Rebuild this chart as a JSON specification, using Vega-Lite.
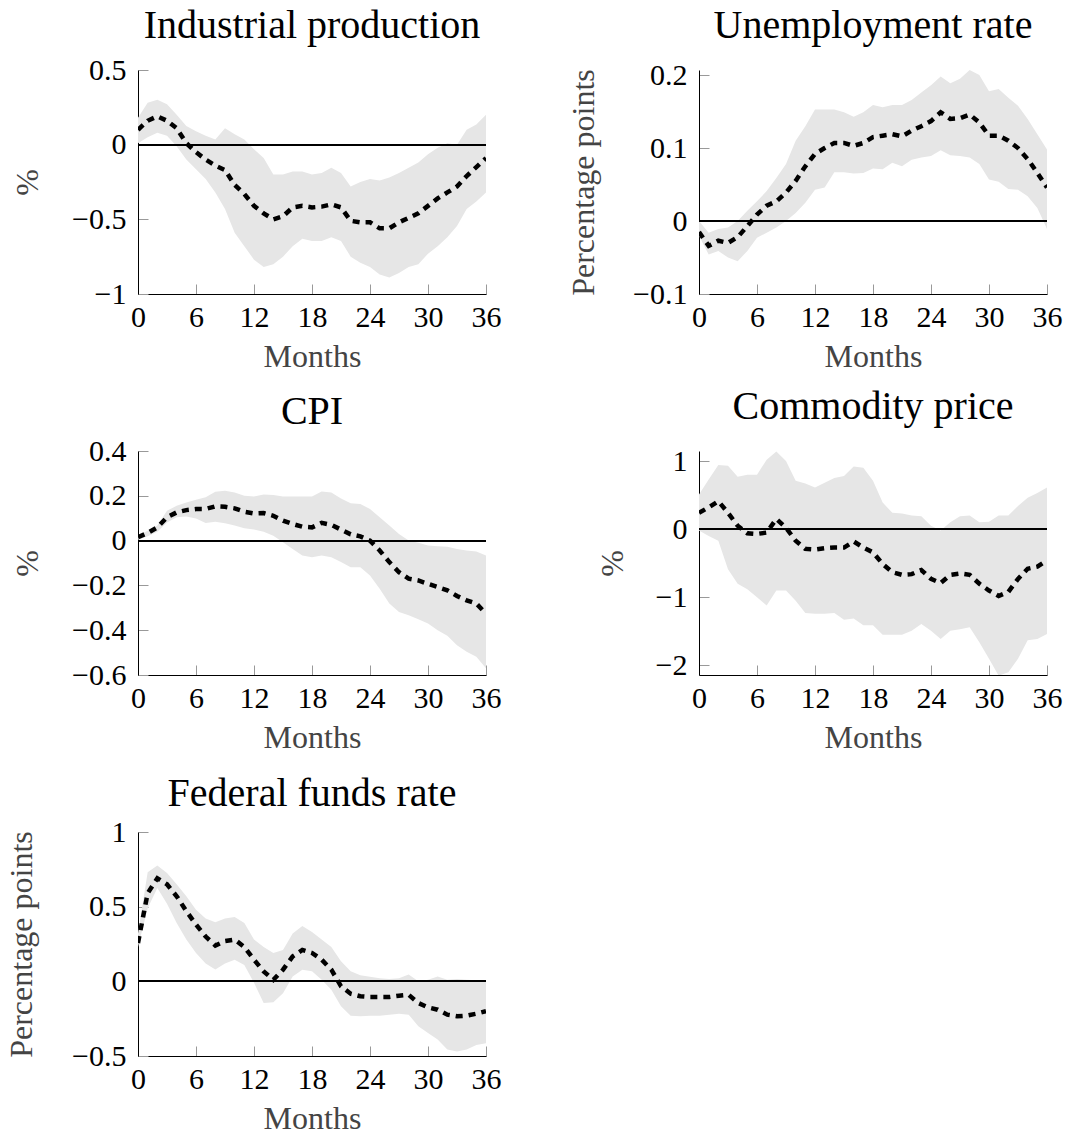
{
  "$schema": "https://vega.github.io/schema/vega-lite/v6.json",
  "padding": {"left": 5, "top": 6, "right": 2, "bottom": 2},
  "background": "white",
  "bounds": "flush",
  "columns": 2,
  "spacing": {"row": 157, "column": 213},
  "data": {"values": [
    {"p":"IP","m":0,"lo":0.01,"hi":0.18,"mean":0.10},
    {"p":"IP","m":1,"lo":0.05,"hi":0.28,"mean":0.16},
    {"p":"IP","m":2,"lo":0.08,"hi":0.30,"mean":0.19},
    {"p":"IP","m":3,"lo":0.06,"hi":0.27,"mean":0.16},
    {"p":"IP","m":4,"lo":-0.01,"hi":0.20,"mean":0.11},
    {"p":"IP","m":5,"lo":-0.10,"hi":0.125,"mean":0.01},
    {"p":"IP","m":6,"lo":-0.165,"hi":0.09,"mean":-0.05},
    {"p":"IP","m":7,"lo":-0.23,"hi":0.06,"mean":-0.10},
    {"p":"IP","m":8,"lo":-0.32,"hi":0.035,"mean":-0.14},
    {"p":"IP","m":9,"lo":-0.43,"hi":0.11,"mean":-0.17},
    {"p":"IP","m":10,"lo":-0.59,"hi":0.07,"mean":-0.27},
    {"p":"IP","m":11,"lo":-0.68,"hi":0.035,"mean":-0.33},
    {"p":"IP","m":12,"lo":-0.77,"hi":-0.03,"mean":-0.41},
    {"p":"IP","m":13,"lo":-0.82,"hi":-0.09,"mean":-0.46},
    {"p":"IP","m":14,"lo":-0.80,"hi":-0.20,"mean":-0.50},
    {"p":"IP","m":15,"lo":-0.75,"hi":-0.20,"mean":-0.48},
    {"p":"IP","m":16,"lo":-0.68,"hi":-0.18,"mean":-0.42},
    {"p":"IP","m":17,"lo":-0.63,"hi":-0.18,"mean":-0.41},
    {"p":"IP","m":18,"lo":-0.645,"hi":-0.20,"mean":-0.42},
    {"p":"IP","m":19,"lo":-0.645,"hi":-0.19,"mean":-0.415},
    {"p":"IP","m":20,"lo":-0.62,"hi":-0.155,"mean":-0.40},
    {"p":"IP","m":21,"lo":-0.645,"hi":-0.19,"mean":-0.42},
    {"p":"IP","m":22,"lo":-0.75,"hi":-0.28,"mean":-0.51},
    {"p":"IP","m":23,"lo":-0.79,"hi":-0.25,"mean":-0.52},
    {"p":"IP","m":24,"lo":-0.82,"hi":-0.23,"mean":-0.52},
    {"p":"IP","m":25,"lo":-0.87,"hi":-0.24,"mean":-0.56},
    {"p":"IP","m":26,"lo":-0.89,"hi":-0.22,"mean":-0.56},
    {"p":"IP","m":27,"lo":-0.86,"hi":-0.19,"mean":-0.52},
    {"p":"IP","m":28,"lo":-0.82,"hi":-0.155,"mean":-0.49},
    {"p":"IP","m":29,"lo":-0.80,"hi":-0.12,"mean":-0.46},
    {"p":"IP","m":30,"lo":-0.73,"hi":-0.065,"mean":-0.41},
    {"p":"IP","m":31,"lo":-0.68,"hi":-0.02,"mean":-0.36},
    {"p":"IP","m":32,"lo":-0.62,"hi":0.01,"mean":-0.32},
    {"p":"IP","m":33,"lo":-0.545,"hi":0.00,"mean":-0.28},
    {"p":"IP","m":34,"lo":-0.43,"hi":0.10,"mean":-0.21},
    {"p":"IP","m":35,"lo":-0.38,"hi":0.135,"mean":-0.15},
    {"p":"IP","m":36,"lo":-0.32,"hi":0.20,"mean":-0.09},

    {"p":"UR","m":0,"lo":-0.02,"hi":0.0,"mean":-0.015},
    {"p":"UR","m":1,"lo":-0.046,"hi":-0.016,"mean":-0.034},
    {"p":"UR","m":2,"lo":-0.041,"hi":-0.011,"mean":-0.027},
    {"p":"UR","m":3,"lo":-0.050,"hi":-0.009,"mean":-0.030},
    {"p":"UR","m":4,"lo":-0.055,"hi":0.000,"mean":-0.022},
    {"p":"UR","m":5,"lo":-0.041,"hi":0.014,"mean":-0.007},
    {"p":"UR","m":6,"lo":-0.023,"hi":0.027,"mean":0.009},
    {"p":"UR","m":7,"lo":-0.016,"hi":0.041,"mean":0.021},
    {"p":"UR","m":8,"lo":-0.009,"hi":0.059,"mean":0.027},
    {"p":"UR","m":9,"lo":0.000,"hi":0.078,"mean":0.039},
    {"p":"UR","m":10,"lo":0.011,"hi":0.110,"mean":0.055},
    {"p":"UR","m":11,"lo":0.025,"hi":0.130,"mean":0.075},
    {"p":"UR","m":12,"lo":0.043,"hi":0.153,"mean":0.092},
    {"p":"UR","m":13,"lo":0.046,"hi":0.153,"mean":0.100},
    {"p":"UR","m":14,"lo":0.067,"hi":0.153,"mean":0.107},
    {"p":"UR","m":15,"lo":0.067,"hi":0.149,"mean":0.107},
    {"p":"UR","m":16,"lo":0.065,"hi":0.143,"mean":0.103},
    {"p":"UR","m":17,"lo":0.066,"hi":0.149,"mean":0.107},
    {"p":"UR","m":18,"lo":0.072,"hi":0.159,"mean":0.115},
    {"p":"UR","m":19,"lo":0.071,"hi":0.156,"mean":0.117},
    {"p":"UR","m":20,"lo":0.080,"hi":0.159,"mean":0.119},
    {"p":"UR","m":21,"lo":0.075,"hi":0.159,"mean":0.116},
    {"p":"UR","m":22,"lo":0.084,"hi":0.166,"mean":0.124},
    {"p":"UR","m":23,"lo":0.087,"hi":0.176,"mean":0.130},
    {"p":"UR","m":24,"lo":0.089,"hi":0.186,"mean":0.137},
    {"p":"UR","m":25,"lo":0.097,"hi":0.198,"mean":0.149},
    {"p":"UR","m":26,"lo":0.090,"hi":0.189,"mean":0.140},
    {"p":"UR","m":27,"lo":0.089,"hi":0.195,"mean":0.141},
    {"p":"UR","m":28,"lo":0.087,"hi":0.207,"mean":0.146},
    {"p":"UR","m":29,"lo":0.078,"hi":0.200,"mean":0.135},
    {"p":"UR","m":30,"lo":0.057,"hi":0.178,"mean":0.117},
    {"p":"UR","m":31,"lo":0.054,"hi":0.181,"mean":0.117},
    {"p":"UR","m":32,"lo":0.044,"hi":0.169,"mean":0.110},
    {"p":"UR","m":33,"lo":0.043,"hi":0.158,"mean":0.100},
    {"p":"UR","m":34,"lo":0.034,"hi":0.140,"mean":0.085},
    {"p":"UR","m":35,"lo":0.018,"hi":0.119,"mean":0.066},
    {"p":"UR","m":36,"lo":-0.011,"hi":0.098,"mean":0.046},

    {"p":"CPI","m":0,"lo":0.004,"hi":0.022,"mean":0.015},
    {"p":"CPI","m":1,"lo":0.019,"hi":0.044,"mean":0.034},
    {"p":"CPI","m":2,"lo":0.040,"hi":0.067,"mean":0.059},
    {"p":"CPI","m":3,"lo":0.081,"hi":0.133,"mean":0.104},
    {"p":"CPI","m":4,"lo":0.104,"hi":0.156,"mean":0.126},
    {"p":"CPI","m":5,"lo":0.108,"hi":0.170,"mean":0.136},
    {"p":"CPI","m":6,"lo":0.099,"hi":0.182,"mean":0.141},
    {"p":"CPI","m":7,"lo":0.079,"hi":0.193,"mean":0.141},
    {"p":"CPI","m":8,"lo":0.084,"hi":0.218,"mean":0.153},
    {"p":"CPI","m":9,"lo":0.077,"hi":0.222,"mean":0.151},
    {"p":"CPI","m":10,"lo":0.067,"hi":0.215,"mean":0.144},
    {"p":"CPI","m":11,"lo":0.055,"hi":0.200,"mean":0.129},
    {"p":"CPI","m":12,"lo":0.049,"hi":0.197,"mean":0.121},
    {"p":"CPI","m":13,"lo":0.040,"hi":0.206,"mean":0.123},
    {"p":"CPI","m":14,"lo":0.022,"hi":0.204,"mean":0.111},
    {"p":"CPI","m":15,"lo":-0.007,"hi":0.197,"mean":0.089},
    {"p":"CPI","m":16,"lo":-0.037,"hi":0.197,"mean":0.074},
    {"p":"CPI","m":17,"lo":-0.067,"hi":0.197,"mean":0.062},
    {"p":"CPI","m":18,"lo":-0.074,"hi":0.197,"mean":0.059},
    {"p":"CPI","m":19,"lo":-0.067,"hi":0.219,"mean":0.079},
    {"p":"CPI","m":20,"lo":-0.074,"hi":0.215,"mean":0.070},
    {"p":"CPI","m":21,"lo":-0.096,"hi":0.188,"mean":0.049},
    {"p":"CPI","m":22,"lo":-0.119,"hi":0.167,"mean":0.028},
    {"p":"CPI","m":23,"lo":-0.119,"hi":0.163,"mean":0.019},
    {"p":"CPI","m":24,"lo":-0.156,"hi":0.141,"mean":0.000},
    {"p":"CPI","m":25,"lo":-0.215,"hi":0.104,"mean":-0.044},
    {"p":"CPI","m":26,"lo":-0.281,"hi":0.067,"mean":-0.096},
    {"p":"CPI","m":27,"lo":-0.319,"hi":0.030,"mean":-0.141},
    {"p":"CPI","m":28,"lo":-0.333,"hi":0.000,"mean":-0.170},
    {"p":"CPI","m":29,"lo":-0.351,"hi":-0.010,"mean":-0.178},
    {"p":"CPI","m":30,"lo":-0.370,"hi":-0.022,"mean":-0.193},
    {"p":"CPI","m":31,"lo":-0.400,"hi":-0.025,"mean":-0.207},
    {"p":"CPI","m":32,"lo":-0.425,"hi":-0.027,"mean":-0.222},
    {"p":"CPI","m":33,"lo":-0.467,"hi":-0.037,"mean":-0.247},
    {"p":"CPI","m":34,"lo":-0.496,"hi":-0.044,"mean":-0.267},
    {"p":"CPI","m":35,"lo":-0.519,"hi":-0.049,"mean":-0.281},
    {"p":"CPI","m":36,"lo":-0.570,"hi":-0.067,"mean":-0.326},

    {"p":"CP","m":0,"lo":-0.02,"hi":0.51,"mean":0.24},
    {"p":"CP","m":1,"lo":-0.10,"hi":0.73,"mean":0.32},
    {"p":"CP","m":2,"lo":-0.17,"hi":0.94,"mean":0.41},
    {"p":"CP","m":3,"lo":-0.59,"hi":0.93,"mean":0.24},
    {"p":"CP","m":4,"lo":-0.80,"hi":0.77,"mean":0.05},
    {"p":"CP","m":5,"lo":-0.88,"hi":0.80,"mean":-0.06},
    {"p":"CP","m":6,"lo":-1.00,"hi":0.80,"mean":-0.07},
    {"p":"CP","m":7,"lo":-1.12,"hi":1.02,"mean":-0.05},
    {"p":"CP","m":8,"lo":-0.90,"hi":1.14,"mean":0.15},
    {"p":"CP","m":9,"lo":-0.90,"hi":1.00,"mean":0.02},
    {"p":"CP","m":10,"lo":-1.05,"hi":0.71,"mean":-0.17},
    {"p":"CP","m":11,"lo":-1.23,"hi":0.67,"mean":-0.29},
    {"p":"CP","m":12,"lo":-1.24,"hi":0.61,"mean":-0.30},
    {"p":"CP","m":13,"lo":-1.24,"hi":0.68,"mean":-0.28},
    {"p":"CP","m":14,"lo":-1.23,"hi":0.75,"mean":-0.27},
    {"p":"CP","m":15,"lo":-1.33,"hi":0.78,"mean":-0.27},
    {"p":"CP","m":16,"lo":-1.31,"hi":0.92,"mean":-0.18},
    {"p":"CP","m":17,"lo":-1.41,"hi":0.90,"mean":-0.27},
    {"p":"CP","m":18,"lo":-1.41,"hi":0.71,"mean":-0.34},
    {"p":"CP","m":19,"lo":-1.55,"hi":0.39,"mean":-0.51},
    {"p":"CP","m":20,"lo":-1.55,"hi":0.24,"mean":-0.63},
    {"p":"CP","m":21,"lo":-1.55,"hi":0.23,"mean":-0.67},
    {"p":"CP","m":22,"lo":-1.49,"hi":0.20,"mean":-0.66},
    {"p":"CP","m":23,"lo":-1.39,"hi":0.19,"mean":-0.60},
    {"p":"CP","m":24,"lo":-1.49,"hi":0.05,"mean":-0.73},
    {"p":"CP","m":25,"lo":-1.61,"hi":-0.02,"mean":-0.79},
    {"p":"CP","m":26,"lo":-1.49,"hi":0.10,"mean":-0.67},
    {"p":"CP","m":27,"lo":-1.47,"hi":0.19,"mean":-0.65},
    {"p":"CP","m":28,"lo":-1.44,"hi":0.20,"mean":-0.67},
    {"p":"CP","m":29,"lo":-1.66,"hi":0.10,"mean":-0.80},
    {"p":"CP","m":30,"lo":-1.90,"hi":0.11,"mean":-0.90},
    {"p":"CP","m":31,"lo":-2.15,"hi":0.20,"mean":-0.98},
    {"p":"CP","m":32,"lo":-2.10,"hi":0.20,"mean":-0.92},
    {"p":"CP","m":33,"lo":-1.90,"hi":0.34,"mean":-0.73},
    {"p":"CP","m":34,"lo":-1.63,"hi":0.46,"mean":-0.58},
    {"p":"CP","m":35,"lo":-1.61,"hi":0.53,"mean":-0.55},
    {"p":"CP","m":36,"lo":-1.54,"hi":0.61,"mean":-0.46},

    {"p":"FF","m":0,"lo":0.23,"hi":0.32,"mean":0.257},
    {"p":"FF","m":1,"lo":0.49,"hi":0.73,"mean":0.59},
    {"p":"FF","m":2,"lo":0.625,"hi":0.775,"mean":0.69},
    {"p":"FF","m":3,"lo":0.52,"hi":0.725,"mean":0.65},
    {"p":"FF","m":4,"lo":0.39,"hi":0.65,"mean":0.57},
    {"p":"FF","m":5,"lo":0.28,"hi":0.57,"mean":0.47},
    {"p":"FF","m":6,"lo":0.19,"hi":0.48,"mean":0.38},
    {"p":"FF","m":7,"lo":0.12,"hi":0.42,"mean":0.30},
    {"p":"FF","m":8,"lo":0.08,"hi":0.395,"mean":0.24},
    {"p":"FF","m":9,"lo":0.12,"hi":0.42,"mean":0.27},
    {"p":"FF","m":10,"lo":0.145,"hi":0.43,"mean":0.28},
    {"p":"FF","m":11,"lo":0.11,"hi":0.39,"mean":0.23},
    {"p":"FF","m":12,"lo":-0.01,"hi":0.28,"mean":0.145},
    {"p":"FF","m":13,"lo":-0.145,"hi":0.23,"mean":0.067},
    {"p":"FF","m":14,"lo":-0.14,"hi":0.19,"mean":0.01},
    {"p":"FF","m":15,"lo":-0.08,"hi":0.21,"mean":0.078},
    {"p":"FF","m":16,"lo":0.033,"hi":0.32,"mean":0.167},
    {"p":"FF","m":17,"lo":0.078,"hi":0.37,"mean":0.21},
    {"p":"FF","m":18,"lo":0.067,"hi":0.33,"mean":0.19},
    {"p":"FF","m":19,"lo":0.01,"hi":0.28,"mean":0.145},
    {"p":"FF","m":20,"lo":-0.056,"hi":0.23,"mean":0.078},
    {"p":"FF","m":21,"lo":-0.167,"hi":0.134,"mean":-0.033},
    {"p":"FF","m":22,"lo":-0.23,"hi":0.067,"mean":-0.083},
    {"p":"FF","m":23,"lo":-0.234,"hi":0.04,"mean":-0.10},
    {"p":"FF","m":24,"lo":-0.23,"hi":0.03,"mean":-0.105},
    {"p":"FF","m":25,"lo":-0.23,"hi":0.02,"mean":-0.105},
    {"p":"FF","m":26,"lo":-0.223,"hi":0.015,"mean":-0.105},
    {"p":"FF","m":27,"lo":-0.217,"hi":0.02,"mean":-0.096},
    {"p":"FF","m":28,"lo":-0.223,"hi":0.045,"mean":-0.09},
    {"p":"FF","m":29,"lo":-0.30,"hi":0.0,"mean":-0.145},
    {"p":"FF","m":30,"lo":-0.346,"hi":0.01,"mean":-0.174},
    {"p":"FF","m":31,"lo":-0.39,"hi":0.033,"mean":-0.19},
    {"p":"FF","m":32,"lo":-0.457,"hi":0.01,"mean":-0.223},
    {"p":"FF","m":33,"lo":-0.47,"hi":0.015,"mean":-0.234},
    {"p":"FF","m":34,"lo":-0.457,"hi":0.01,"mean":-0.23},
    {"p":"FF","m":35,"lo":-0.426,"hi":0.007,"mean":-0.217},
    {"p":"FF","m":36,"lo":-0.415,"hi":0.0,"mean":-0.20}
  ]},
  "concat": [
    {
      "width": 348, "height": 224,
      "title": {"text": "Industrial production", "offset": 9},
      "transform": [{"filter": "datum.p === 'IP'"}],
      "layer": [
        {"mark": {"type": "area", "color": "#e6e6e6", "clip": true},
         "encoding": {
           "x": {"field": "m", "type": "quantitative", "scale": {"domain": [0, 36], "nice": false}, "axis": {"values": [0,6,12,18,24,30,36], "title": "Months"}},
           "y": {"field": "lo", "type": "quantitative", "scale": {"domain": [-1, 0.5], "nice": false, "zero": false}, "axis": {"values": [-1,-0.5,0,0.5], "title": "%", "titlePadding": 27}},
           "y2": {"field": "hi"}}},
        {"mark": {"type": "rule", "color": "black", "strokeWidth": 1}, "encoding": {"y": {"datum": 0, "type": "quantitative"}}},
        {"mark": {"type": "line", "color": "black", "strokeWidth": 4.5, "strokeDash": [7, 6], "clip": true},
         "encoding": {
           "x": {"field": "m", "type": "quantitative"},
           "y": {"field": "mean", "type": "quantitative"}}}
      ]
    },
    {
      "width": 348, "height": 224,
      "title": {"text": "Unemployment rate", "offset": 14},
      "transform": [{"filter": "datum.p === 'UR'"}],
      "layer": [
        {"mark": {"type": "area", "color": "#e6e6e6", "clip": true},
         "encoding": {
           "x": {"field": "m", "type": "quantitative", "scale": {"domain": [0, 36], "nice": false}, "axis": {"values": [0,6,12,18,24,30,36], "title": "Months"}},
           "y": {"field": "lo", "type": "quantitative", "scale": {"domain": [-0.1, 0.207], "nice": false, "zero": false}, "axis": {"values": [-0.1,0,0.1,0.2], "title": "Percentage points", "titlePadding": 32}},
           "y2": {"field": "hi"}}},
        {"mark": {"type": "rule", "color": "black", "strokeWidth": 1}, "encoding": {"y": {"datum": 0, "type": "quantitative"}}},
        {"mark": {"type": "line", "color": "black", "strokeWidth": 4.5, "strokeDash": [7, 6], "clip": true},
         "encoding": {
           "x": {"field": "m", "type": "quantitative"},
           "y": {"field": "mean", "type": "quantitative"}}}
      ]
    },
    {
      "width": 348, "height": 224,
      "title": {"text": "CPI", "offset": 4},
      "transform": [{"filter": "datum.p === 'CPI'"}],
      "layer": [
        {"mark": {"type": "area", "color": "#e6e6e6", "clip": true},
         "encoding": {
           "x": {"field": "m", "type": "quantitative", "scale": {"domain": [0, 36], "nice": false}, "axis": {"values": [0,6,12,18,24,30,36], "title": "Months"}},
           "y": {"field": "lo", "type": "quantitative", "scale": {"domain": [-0.6, 0.4], "nice": false, "zero": false}, "axis": {"values": [-0.6,-0.4,-0.2,0,0.2,0.4], "title": "%", "titlePadding": 27}},
           "y2": {"field": "hi"}}},
        {"mark": {"type": "rule", "color": "black", "strokeWidth": 1}, "encoding": {"y": {"datum": 0, "type": "quantitative"}}},
        {"mark": {"type": "line", "color": "black", "strokeWidth": 4.5, "strokeDash": [7, 6], "clip": true},
         "encoding": {
           "x": {"field": "m", "type": "quantitative"},
           "y": {"field": "mean", "type": "quantitative"}}}
      ]
    },
    {
      "width": 348, "height": 224,
      "title": {"text": "Commodity price", "offset": 19},
      "transform": [{"filter": "datum.p === 'CP'"}],
      "layer": [
        {"mark": {"type": "area", "color": "#e6e6e6", "clip": true},
         "encoding": {
           "x": {"field": "m", "type": "quantitative", "scale": {"domain": [0, 36], "nice": false}, "axis": {"values": [0,6,12,18,24,30,36], "title": "Months"}},
           "y": {"field": "lo", "type": "quantitative", "scale": {"domain": [-2.14, 1.147], "nice": false, "zero": false}, "axis": {"values": [-2,-1,0,1], "title": "%", "titlePadding": 26}},
           "y2": {"field": "hi"}}},
        {"mark": {"type": "rule", "color": "black", "strokeWidth": 1}, "encoding": {"y": {"datum": 0, "type": "quantitative"}}},
        {"mark": {"type": "line", "color": "black", "strokeWidth": 4.5, "strokeDash": [7, 6], "clip": true},
         "encoding": {
           "x": {"field": "m", "type": "quantitative"},
           "y": {"field": "mean", "type": "quantitative"}}}
      ]
    },
    {
      "width": 348, "height": 224,
      "title": {"text": "Federal funds rate", "offset": 3},
      "transform": [{"filter": "datum.p === 'FF'"}],
      "layer": [
        {"mark": {"type": "area", "color": "#e6e6e6", "clip": true},
         "encoding": {
           "x": {"field": "m", "type": "quantitative", "scale": {"domain": [0, 36], "nice": false}, "axis": {"values": [0,6,12,18,24,30,36], "title": "Months"}},
           "y": {"field": "lo", "type": "quantitative", "scale": {"domain": [-0.5, 1], "nice": false, "zero": false}, "axis": {"values": [-0.5,0,0.5,1], "title": "Percentage points", "titlePadding": 33}},
           "y2": {"field": "hi"}}},
        {"mark": {"type": "rule", "color": "black", "strokeWidth": 1}, "encoding": {"y": {"datum": 0, "type": "quantitative"}}},
        {"mark": {"type": "line", "color": "black", "strokeWidth": 4.5, "strokeDash": [7, 6], "clip": true},
         "encoding": {
           "x": {"field": "m", "type": "quantitative"},
           "y": {"field": "mean", "type": "quantitative"}}}
      ]
    }
  ],
  "config": {
    "font": "Liberation Serif",
    "view": {"stroke": null},
    "axis": {
      "grid": false,
      "format": "~g",
      "domainColor": "black",
      "domainWidth": 1,
      "tickColor": "#999999",
      "tickWidth": 1,
      "tickSize": -10,
      "labelColor": "black",
      "labelFont": "Liberation Serif",
      "labelFontSize": 30,
      "labelFlush": false,
      "labelOverlap": false,
      "labelBound": false,
      "titleFont": "Liberation Serif",
      "titleFontSize": 32,
      "titleFontWeight": "normal",
      "titleColor": "#444444"
    },
    "axisX": {"labelPadding": 18, "titlePadding": 9},
    "axisY": {"labelPadding": 22},
    "title": {
      "font": "Liberation Serif",
      "fontSize": 40,
      "fontWeight": "normal",
      "color": "black",
      "anchor": "middle",
      "frame": "group",
      "baseline": "alphabetic"
    }
  }
}
